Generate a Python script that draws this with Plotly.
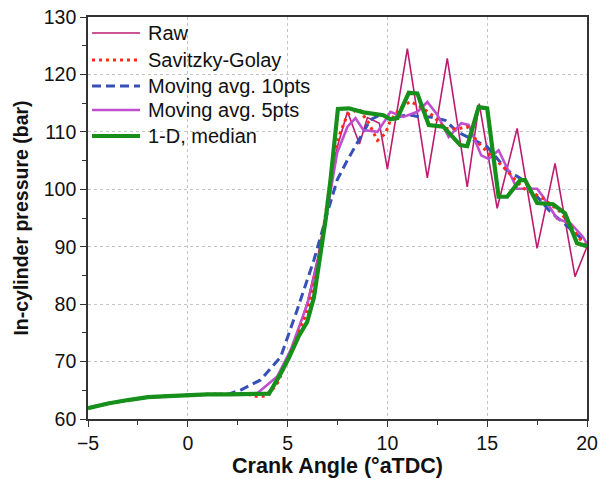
import plotly.graph_objects as go

# ---------------- data ----------------
base_x = [-5, -4, -3, -2, -1, 0, 1, 2, 3]
base_y = [61.9, 62.7, 63.3, 63.8, 64.0, 64.2, 64.3, 64.3, 64.3]

raw_x = base_x + [3.5, 4, 4.5, 5, 5.5, 6, 6.5, 7, 7.5, 8, 8.6, 9, 9.6, 10, 11, 12, 13, 14,
                  14.6, 15.5, 16.5, 17.5, 18.4, 19.4, 20]
raw_y = base_y + [64.3, 64.6, 66.5, 70.5, 75.0, 80.5, 88.0, 97.5, 107.5, 113.5, 107.9, 112.5,
                  111.5, 103.5, 124.5, 102.0, 122.8, 100.4, 114.9, 96.7, 110.6, 89.7, 104.5,
                  84.8, 90.0]

sg_x = base_x + [3.5, 4, 4.5, 5, 5.5, 6, 6.5, 7, 7.3, 7.6, 8.0, 8.57, 9.07, 9.5, 9.9, 10.15,
                 10.65, 11.15, 11.65, 12.15, 12.9, 13.5, 14.0, 14.5, 15.0, 15.8, 16.3, 16.8,
                 17.3, 17.8, 18.65, 19.2, 19.8, 20]
sg_y = base_y + [63.9, 64.0, 66.3, 70.4, 74.5, 79.0, 86.0, 98.0, 105.6, 109.5, 113.0, 114.0,
                 111.5, 108.5, 109.7, 112.0, 114.1, 115.3, 114.4, 113.2, 110.6, 110.5, 110.9,
                 108.3, 106.5, 103.9, 102.0, 100.2, 99.3, 98.4, 96.1, 93.5, 90.6, 90.0]

ma10_x = base_x[:-1] + [2.65, 3.65, 4.65, 5.48, 6.32, 7.0, 7.48, 8.0, 8.65, 9.15, 9.65, 10.15,
                        11.0, 11.65, 12.15, 12.9, 13.5, 14.0, 15.0, 16.0, 16.8, 18.1, 19.65, 20]
ma10_y = base_y[:-1] + [65.05, 66.8, 70.8, 79.0, 87.7, 96.0, 101.6, 105.1, 109.2, 112.1, 113.0,
                        112.3, 113.0, 112.6, 112.6, 112.0, 110.0, 109.1, 107.4, 103.3, 101.6,
                        96.3, 91.7, 90.6]

ma5_x = base_x + [3.48, 4.48, 5.15, 6.0, 6.65, 7.15, 7.48, 8.0, 8.4, 8.8, 9.5, 10.0, 10.15,
                  10.8, 11.5, 12.0, 12.5, 13.07, 13.7, 14.07, 14.7, 15.07, 15.57, 16.5, 17.5,
                  17.8, 18.5, 19.2, 19.8, 20]
ma5_y = base_y + [64.5, 67.4, 72.0, 80.1, 89.4, 99.3, 106.3, 110.9, 112.4, 110.3, 110.0, 112.6,
                  113.5, 112.6, 113.5, 115.2, 113.0, 109.1, 111.5, 111.2, 105.9, 105.3, 106.8,
                  100.1, 100.1, 98.7, 94.9, 94.0, 91.7, 90.5]

med_x = base_x + [4.07, 4.65, 5.07, 5.57, 5.98, 6.32, 6.65, 6.9, 7.15, 7.52, 8.07, 8.8, 9.8,
                  10.15, 10.5, 11.07, 11.5, 12.07, 12.8, 13.65, 14.0, 14.57, 15.0, 15.57, 16.0,
                  16.65, 16.9, 17.5, 18.3, 18.9, 19.5, 20]
med_y = base_y + [64.4, 67.9, 70.7, 74.5, 76.9, 81.2, 88.8, 94.6, 101.6, 114.0, 114.1, 113.4,
                  112.9, 112.2, 112.4, 116.8, 116.7, 111.2, 110.9, 107.7, 107.5, 114.3, 114.1,
                  98.7, 98.7, 101.6, 101.6, 97.6, 97.4, 95.8, 90.6, 90.1]

names = ["Raw", "Savitzky-Golay", "Moving avg. 10pts", "Moving avg. 5pts", "1-D, median"]
xs = [raw_x, sg_x, ma10_x, ma5_x, med_x]
ys = [raw_y, sg_y, ma10_y, ma5_y, med_y]

# ---------------- styles ----------------
colors = ["#bb1c70", "#ff2a1a", "#3650b8", "#c04fd0", "#16901a"]
widths = [1.6, 3, 3, 2.6, 4.2]
dashes = ["solid", "3px,4px", "9px,5px", "solid", "solid"]
order = [0, 2, 3, 1, 4]  # drawing order (median on top)

FONT = "Liberation Sans, Arial, sans-serif"
W, H = 603, 479
L, R, T, B = 88, 16, 17, 60

fig = go.Figure()
for i in order:
    fig.add_trace(go.Scatter(x=xs[i], y=ys[i], mode="lines", name=names[i],
                             line=dict(color=colors[i], width=widths[i], dash=dashes[i]),
                             showlegend=False))

# manual legend (pixel layout converted to paper coords)
pw, ph = W - L - R, H - T - B
leg_y = [33, 60, 86, 110, 136]
def px(xp):
    return (xp - L) / pw
def py(yp):
    return (H - B - yp) / ph
for i, yy in enumerate(leg_y):
    fig.add_shape(type="line", xref="paper", yref="paper",
                  x0=px(92), x1=px(140), y0=py(yy), y1=py(yy),
                  line=dict(color=colors[i], width=widths[i], dash=dashes[i]))
    fig.add_annotation(xref="paper", yref="paper", x=px(146), y=py(yy), text=names[i],
                       showarrow=False, xanchor="left", yanchor="middle",
                       font=dict(family=FONT, size=20, color="#111"))

axis_common = dict(
    showline=True, linecolor="#333", linewidth=1.6, mirror=True,
    ticks="outside", ticklen=6, tickwidth=1.4, tickcolor="#333",
    showgrid=True, gridcolor="#c4c4c4", griddash="dot", gridwidth=1,
    zeroline=False, automargin=False,
    tickfont=dict(family=FONT, size=19.5, color="#111"),
)
fig.update_xaxes(range=[-5, 20], dtick=5, tick0=-5,
                 minor=dict(dtick=2.5, ticks="outside", ticklen=4, tickcolor="#333", showgrid=False),
                 title=dict(text="<b>Crank Angle (°aTDC)</b>", standoff=4,
                            font=dict(family=FONT, size=21.5, color="#111")),
                 **axis_common)
fig.update_yaxes(range=[60, 130], dtick=10, tick0=60,
                 minor=dict(dtick=5, ticks="outside", ticklen=4, tickcolor="#333", showgrid=False),
                 title=dict(text="<b>In-cylinder pressure (bar)</b>", standoff=10,
                            font=dict(family=FONT, size=19.5, color="#111")),
                 **axis_common)

fig.update_layout(width=W, height=H, margin=dict(l=L, r=R, t=T, b=B),
                  paper_bgcolor="white", plot_bgcolor="white")

fig.write_html("out.html")
